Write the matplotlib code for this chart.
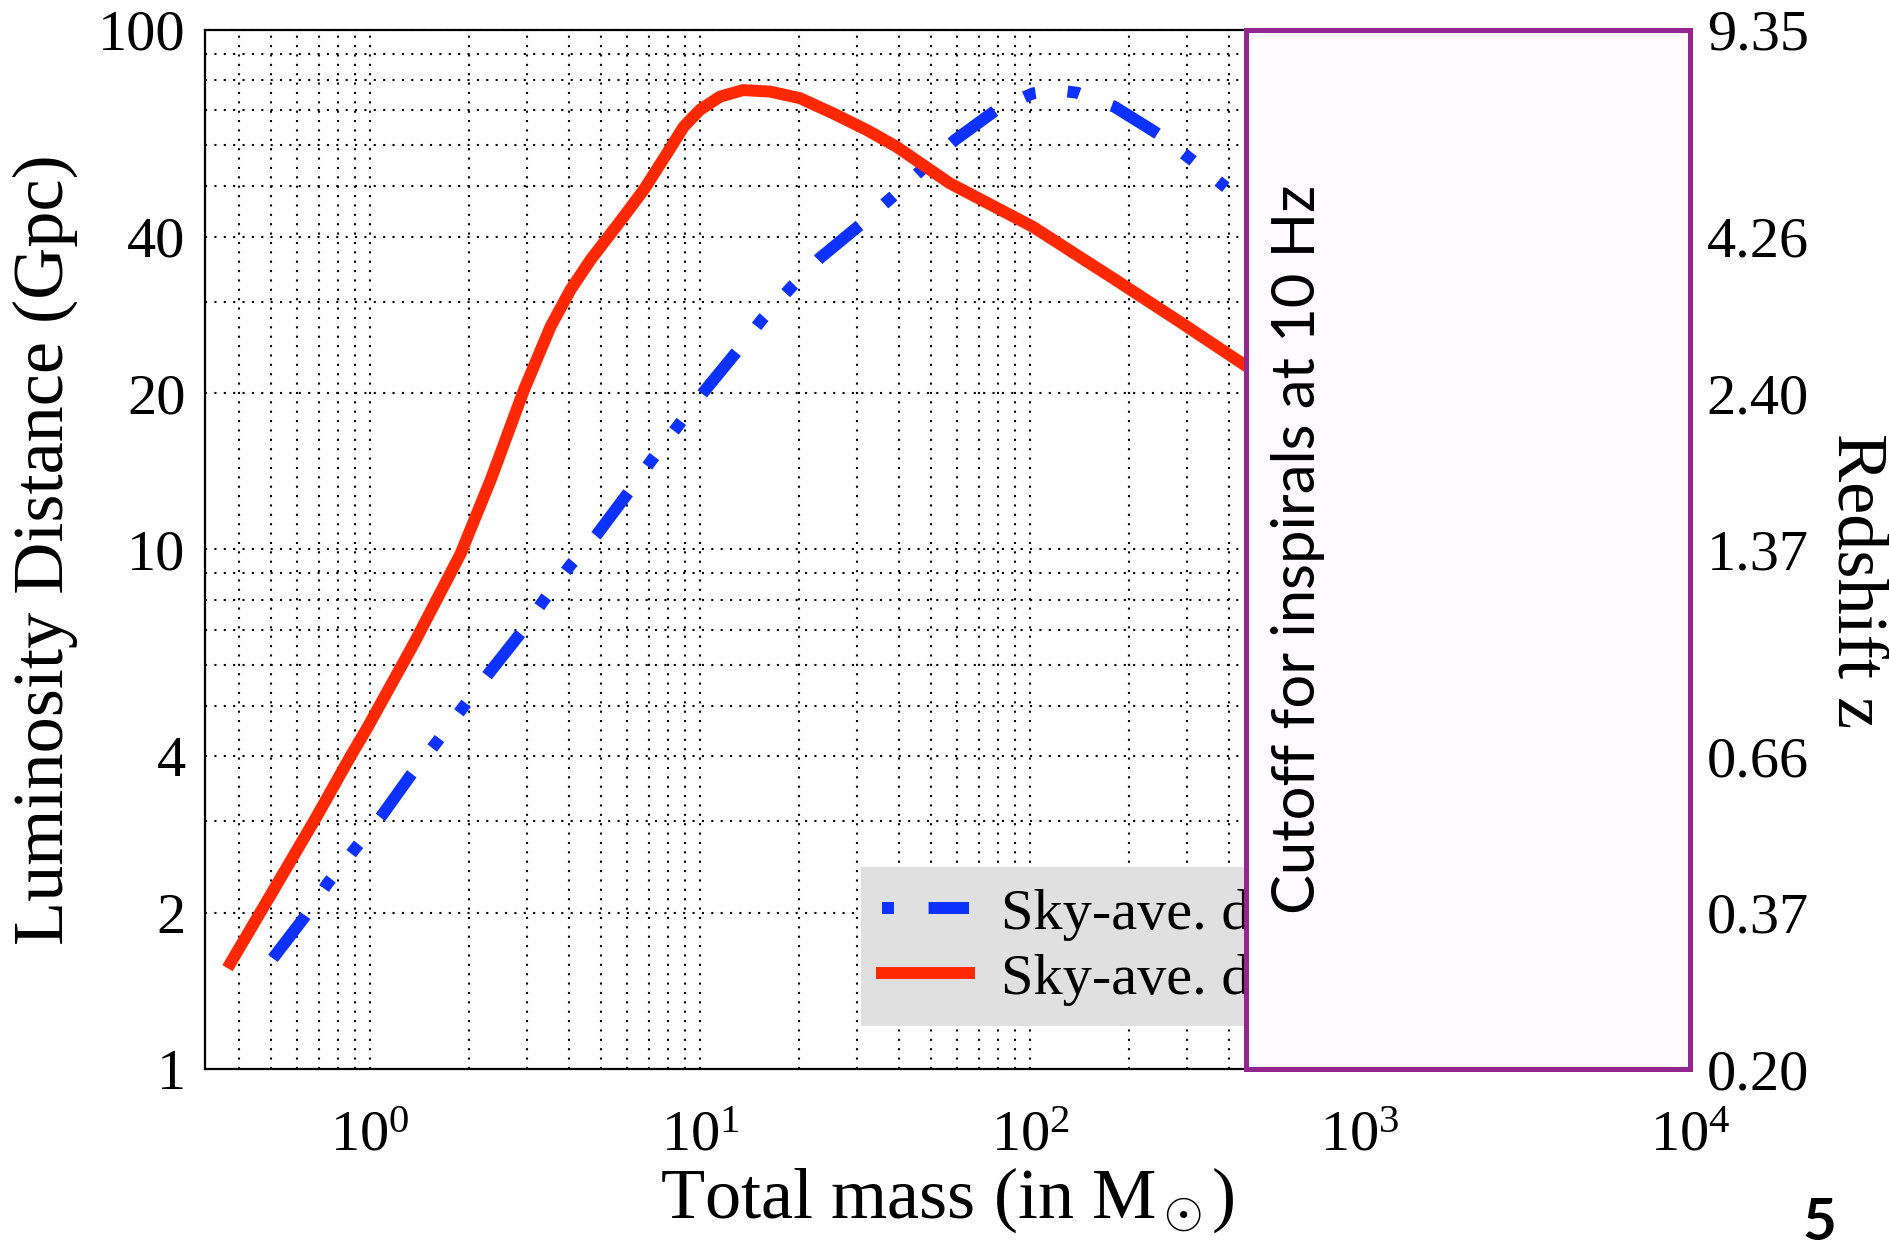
import matplotlib
matplotlib.use("Agg")
import matplotlib.pyplot as plt
from matplotlib.lines import Line2D
from matplotlib.ticker import FixedLocator, NullFormatter, LogFormatterMathtext

plt.rcParams['font.family'] = ['Liberation Serif', 'DejaVu Serif']
plt.rcParams['mathtext.fontset'] = 'custom'
plt.rcParams['mathtext.rm'] = 'Liberation Serif'
plt.rcParams['mathtext.it'] = 'Liberation Serif:italic'

# datos
masa_rojo = [0.378, 0.465, 0.687, 0.873, 0.984, 1.36, 1.88, 2.32, 2.93, 3.53, 4.05, 4.66,
             5.87, 6.75, 7.95, 8.92, 10.0, 11.5, 13.5, 16.3, 20.1, 25.3, 32.0, 39.4,
             57.1, 102, 182, 290, 440]
dist_rojo = [1.60, 2.0, 3.05, 4.0, 4.55, 6.6, 9.8, 13.6, 20.3, 26.9, 31.6, 36.1,
             43.7, 49.2, 57.9, 65.1, 70.2, 74.4, 76.6, 76.1, 73.9, 69.1, 64.2, 59.6,
             50.7, 41.8, 33.0, 27.2, 22.8]

masa_azul = [0.508, 0.633, 0.745, 0.903, 1.08, 1.33, 1.59, 1.92, 2.27, 2.86, 3.37, 4.05,
             4.88, 6.08, 7.16, 8.64, 10.26, 12.9, 15.4, 19.0, 23.1, 30.5, 38.1, 47.5,
             59.2, 79.1, 102, 120, 139, 180, 247, 307, 392]
dist_azul = [1.633, 1.96, 2.28, 2.66, 3.06, 3.68, 4.25, 4.98, 5.73, 6.9, 8.0, 9.33,
             10.7, 12.9, 14.9, 17.4, 20.1, 24.0, 27.7, 32.1, 36.4, 42.1, 47.6, 54.2,
             61.4, 70.2, 75.5, 76.6, 75.7, 71.2, 62.8, 56.4, 49.8]

ticks_dist = [1, 2, 4, 10, 20, 40, 100]
ticks_z = ["0.20", "0.37", "0.66", "1.37", "2.40", "4.26", "9.35"]
etiquetas = ["Sky-ave. distance (ET-D)", "Sky-ave. distance (CE)"]
masa_corte = 450

AZUL = '#0d31ff'
ROJO = '#ff2800'
patron = (4.5, 2.75, 1, 2.7, 1, 2.9)

fig = plt.figure(figsize=(18.89, 12.48), dpi=100)
ax = fig.add_axes([0.1085, 0.1434, 0.7862, 0.8326])

ax.plot(masa_azul, dist_azul, color=AZUL, lw=8.6, linestyle=(0, patron),
        dash_capstyle='butt', dash_joinstyle='round', zorder=3)
ax.plot(masa_rojo, dist_rojo, color=ROJO, lw=8.6, solid_joinstyle='round', zorder=3)

ax.set_xscale('log')
ax.set_yscale('log')
ax.set_xlim(10 ** -0.5, 1e4)
ax.set_ylim(1, 100)

ax.set_yticks(ticks_dist)
ax.set_yticklabels([str(t) for t in ticks_dist])
menores = [m * d for d in (1, 10) for m in range(2, 10) if m * d not in ticks_dist]
ax.yaxis.set_minor_locator(FixedLocator(menores))
ax.yaxis.set_minor_formatter(NullFormatter())
ax.xaxis.set_major_formatter(LogFormatterMathtext())
ax.xaxis.set_minor_formatter(NullFormatter())

ax.grid(True, which='both', color='black', linestyle=(0, (1, 3.5)), lw=1.5)
ax.tick_params(which='both', length=0, labelsize=42)
ax.tick_params(axis='x', pad=30)
ax.tick_params(axis='y', pad=14)
for s in ax.spines.values():
    s.set_linewidth(1.6)

ax.set_xlabel(r'Total mass (in M$_\odot$)', fontsize=52, labelpad=2)
ax.set_ylabel('Luminosity Distance (Gpc)', fontsize=52, labelpad=14)

# en la leyenda el patron azul empieza con el punto
suma = sum(patron[:4])
h_azul = Line2D([], [], color=AZUL, lw=8.6, linestyle=(suma, patron), dash_capstyle='butt')
h_rojo = Line2D([], [], color=ROJO, lw=8.6)
leg = ax.legend([h_azul, h_rojo], etiquetas, loc='lower left',
                bbox_to_anchor=(0.4418, 0.0414), fontsize=42,
                handlelength=1.5, handletextpad=0.55, labelspacing=0.2,
                borderpad=0.35, borderaxespad=0, fancybox=False, framealpha=1)
leg.get_frame().set_facecolor('#e0e0e0')
leg.get_frame().set_edgecolor('none')
leg.set_zorder(5)

# caja del corte
ax.axvspan(masa_corte, 1e4, facecolor='#fffafd', edgecolor='#93278f', lw=3.6,
           zorder=6, clip_on=False)
ax.text(0.7358, 0.5, 'Cutoff for inspirals at 10 Hz', transform=ax.transAxes,
        rotation=90, ha='center', va='center', fontsize=43, family='Lato', zorder=7)

ax2 = ax.twinx()
ax2.set_yscale('log')
ax2.set_ylim(1, 100)
ax2.set_yticks(ticks_dist)
ax2.set_yticklabels(ticks_z)
ax2.yaxis.set_minor_formatter(NullFormatter())
ax2.tick_params(which='both', length=0, labelsize=42, pad=12)
for s in ax2.spines.values():
    s.set_visible(False)
ax2.text(1.111, 0.47, 'Redshift z', transform=ax2.transAxes, fontsize=52,
         rotation=270, ha='center', va='center')

fig.text(0.963, 0.02, '5', fontsize=42, family='Lato', fontweight='bold',
         ha='center', va='center')

fig.savefig('out.png', dpi=100)
